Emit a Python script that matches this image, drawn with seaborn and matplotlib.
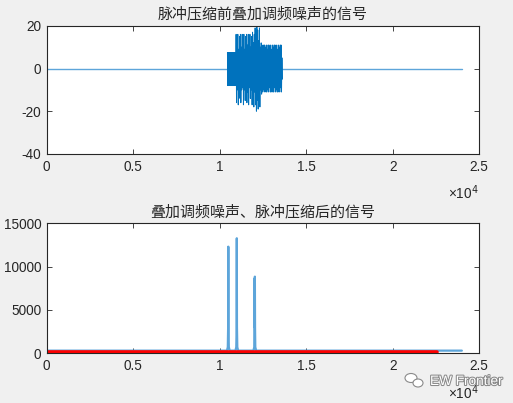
import numpy as np
import pandas as pd
import matplotlib
matplotlib.use("Agg")
import matplotlib.pyplot as plt
import matplotlib.patheffects as pe
from matplotlib.patches import Ellipse
import seaborn as sns

# ---------------- data ----------------
title_top = "脉冲压缩前叠加调频噪声的信号"
title_bot = "叠加调频噪声、脉冲压缩后的信号"

# top: baseline + jammed burst (envelope sampled every 50 samples)
base_x = [0, 10450]
base_y = [0.0, 0.0]
tail_x = [13600, 24000]
tail_y = [0.0, 0.0]
burst_x = list(range(10450, 13650, 50))
burst_hi = [7.5, 7.5, 7.5, 7.5, 7.5, 7.5, 7.5, 7.5, 7.5, 7.5,
            16, 12, 16, 9, 15, 16, 10, 16, 13, 16,
            9, 15, 16, 11, 16, 14, 16, 10, 15, 17,
            12, 16, 19, 14, 20, 18, 13, 19, 10, 12,
            11, 9, 11, 11, 10, 11, 9, 11, 11, 10,
            11, 9, 11, 10, 11, 11, 10, 11, 9, 11,
            10, 11, 11, 5]
burst_lo = [-8, -8, -8, -8, -8, -8, -8, -8, -8, -8,
            -16, -10, -17, -9, -14, -16, -10, -9, -17, -10,
            -15, -9, -16, -11, -17, -9, -14, -10, -17, -15,
            -18, -11, -17, -20, -15, -19, -12, -18, -10, -12,
            -11, -10, -11, -9, -11, -11, -10, -11, -9, -11,
            -11, -10, -11, -11, -9, -11, -10, -11, -11, -10,
            -11, -9, -11, -5]

# bottom: pulse-compressed output
comp_x = [0, 10420, 10470, 10490, 10500, 10510, 10530, 10580,
          10910, 10960, 10980, 10990, 11000, 11020, 11070,
          11950, 12000, 12015, 12025, 12035, 12045, 12060, 12110, 24000]
comp_y = [300, 300, 700, 3000, 12300, 3000, 700, 300,
          300, 700, 3000, 13270, 3000, 700, 300,
          300, 700, 8600, 3000, 8840, 3000, 700, 300, 300]
thr_x = [0, 22550]
thr_y = [180, 180]

# ---------------- style ----------------
sns.set_theme(style="white")
plt.rcParams['font.family'] = ['Liberation Sans', 'Noto Sans CJK SC', 'DejaVu Sans']
plt.rcParams['axes.unicode_minus'] = False

fig = plt.figure(figsize=(5.13, 4.03), dpi=100, facecolor="#F0F0F0")
ax1 = fig.add_axes([0.091, 0.618, 0.843, 0.318])
ax2 = fig.add_axes([0.091, 0.1235, 0.843, 0.3225])

blue = "#0072BD"
txtc = "#262626"

# top signal
zig_x, zig_y = [], []
for x, h, l in zip(burst_x, burst_hi, burst_lo):
    zig_x += [x, x + 25]
    zig_y += [h, l]
df_base = pd.DataFrame({"x": base_x, "y": base_y})
df_tail = pd.DataFrame({"x": tail_x, "y": tail_y})
df_burst = pd.DataFrame({"x": zig_x, "y": zig_y})
for d in (df_base, df_tail):
    sns.lineplot(data=d, x="x", y="y", ax=ax1, color="#5DA5DA", lw=1.0,
                 estimator=None, sort=False)
sns.lineplot(data=df_burst, x="x", y="y", ax=ax1, color=blue, lw=0.7,
             estimator=None, sort=False)
ax1.fill_between([burst_x[0], burst_x[9]], [burst_lo[0]] * 2, [burst_hi[0]] * 2,
                 color=blue, lw=0)
ax1.fill_between([burst_x[10], burst_x[39]], [-5, -5], [6, 6], color=blue, lw=0)
ax1.fill_between([burst_x[40], burst_x[-2]], [-7, -7], [7, 7], color=blue, lw=0)

# bottom signal
df_comp = pd.DataFrame({"x": comp_x, "y": comp_y})
df_thr = pd.DataFrame({"x": thr_x, "y": thr_y})
sns.lineplot(data=df_comp, x="x", y="y", ax=ax2, color="#5DA5DA", lw=1.6,
             estimator=None, sort=False)
sns.lineplot(data=df_thr, x="x", y="y", ax=ax2, color="#FF0000", lw=2.6,
             estimator=None, sort=False)

for ax in (ax1, ax2):
    ax.set_facecolor("white")
    ax.set_xlim(0, 25000)
    ax.set_xticks([0, 5000, 10000, 15000, 20000, 25000])
    ax.set_xticklabels(["0", "0.5", "1", "1.5", "2", "2.5"])
    ax.set_xlabel("")
    ax.set_ylabel("")
    for s in ax.spines.values():
        s.set_color(txtc)
        s.set_linewidth(0.8)
        s.set_visible(True)
    ax.tick_params(direction="in", length=3.5, width=0.6, colors=txtc,
                   labelsize=9.8, top=True, right=True, bottom=True, left=True,
                   pad=4)
    ax.text(1.0, -0.30, "×10$^4$", transform=ax.transAxes, ha="right",
            va="center", fontsize=9.8, color=txtc)

ax1.set_ylim(-40, 20)
ax1.set_yticks([-40, -20, 0, 20])
ax1.set_title(title_top, fontsize=10.8, color=txtc, pad=5)

ax2.set_ylim(0, 15000)
ax2.set_yticks([0, 5000, 10000, 15000])
ax2.set_title(title_bot, fontsize=10.8, color=txtc, pad=5)

# watermark
fig.text(430 / 513, 1 - 381 / 403, "EW Frontier", fontsize=9.8, color="white",
         ha="left", va="center",
         path_effects=[pe.withStroke(linewidth=1.5, foreground="#8a8a8a")])
fig.patches.append(Ellipse((411 / 513, 1 - 378 / 403), 12 / 513, 9 / 403,
                           transform=fig.transFigure, fc="white", ec="#8a8a8a", lw=0.8))
fig.patches.append(Ellipse((418 / 513, 1 - 383 / 403), 10 / 513, 8 / 403,
                           transform=fig.transFigure, fc="white", ec="#8a8a8a", lw=0.8))

fig.savefig("out.png", dpi=100, facecolor=fig.get_facecolor())
